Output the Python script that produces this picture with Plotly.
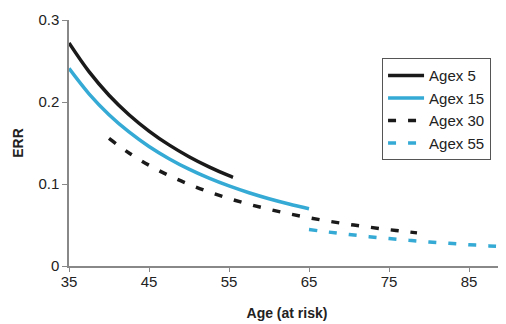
import plotly.graph_objects as go

age_agex5 = [35, 37.5, 40, 42.5, 45, 47.5, 50, 52.5, 55, 55.5]
err_agex5 = [0.2720, 0.2370, 0.2083, 0.1845, 0.1646, 0.1477, 0.1333, 0.1209, 0.1101, 0.1082]

age_agex15 = [35, 37.5, 40, 42.5, 45, 47.5, 50, 52.5, 55, 57.5, 60, 62.5, 65]
err_agex15 = [0.2410, 0.2100, 0.1845, 0.1635, 0.1458, 0.1309, 0.1181, 0.1071, 0.0976, 0.0893,
              0.0820, 0.0756, 0.0699]

age_agex30 = [40, 42.5, 45, 47.5, 50, 52.5, 55, 57.5, 60, 62.5, 65, 67.5, 70, 72.5, 75, 77.5, 78.5]
err_agex30 = [0.1556, 0.1378, 0.1229, 0.1103, 0.0996, 0.0903, 0.0823, 0.0753, 0.0692, 0.0637,
              0.0589, 0.0546, 0.0508, 0.0474, 0.0443, 0.0415, 0.0404]

age_agex55 = [65, 67.5, 70, 72.5, 75, 77.5, 80, 82.5, 85, 87.5, 89]
err_agex55 = [0.0445, 0.0413, 0.0384, 0.0358, 0.0334, 0.0313, 0.0293, 0.0276, 0.0260, 0.0245, 0.0237]

x_ticks = [35, 45, 55, 65, 75, 85]
y_ticks = [0, 0.1, 0.2, 0.3]
y_tick_labels = ["0", "0.1", "0.2", "0.3"]

BLACK = "#1a1a1a"
BLUE = "#35aad4"
FONT = "Liberation Sans, Arial, sans-serif"

fig = go.Figure()
fig.add_trace(go.Scatter(x=age_agex5, y=err_agex5, mode="lines", name="Agex 5",
                         line=dict(color=BLACK, width=3.5, shape="spline")))
fig.add_trace(go.Scatter(x=age_agex15, y=err_agex15, mode="lines", name="Agex 15",
                         line=dict(color=BLUE, width=3.5, shape="spline")))
fig.add_trace(go.Scatter(x=age_agex30, y=err_agex30, mode="lines", name="Agex 30",
                         line=dict(color=BLACK, width=3.5, shape="spline", dash="8px,12px")))
fig.add_trace(go.Scatter(x=age_agex55, y=err_agex55, mode="lines", name="Agex 55",
                         line=dict(color=BLUE, width=3.5, shape="spline", dash="8px,12px")))

# page body has an 8px default margin, so the figure is sized/offset to compensate
fig.update_layout(
    width=498, height=316,
    margin=dict(l=61, r=1, t=12, b=58),
    paper_bgcolor="white", plot_bgcolor="white",
    font=dict(family=FONT, size=15, color="#222222"),
    showlegend=True,
    legend=dict(x=0.718, y=0.845, xanchor="left", yanchor="top",
                bordercolor="#555555", borderwidth=1, bgcolor="white", itemwidth=36,
                font=dict(size=15, color="#222222"), tracegroupgap=0),
    xaxis=dict(range=[35, 89.5], tickvals=x_ticks, showgrid=False, zeroline=False,
               showline=True, linecolor="#888888", linewidth=1.5, automargin=False,
               ticks="outside", ticklen=4, tickcolor="#888888", tickfont=dict(size=15),
               ticklabelstandoff=-3,
               title=dict(text="<b>Age (at risk)</b>", standoff=19, font=dict(size=14))),
    yaxis=dict(range=[0, 0.3], tickvals=y_ticks, ticktext=y_tick_labels, showgrid=False,
               zeroline=False, showline=True, linecolor="#888888", linewidth=1.5, automargin=False,
               ticks="outside", ticklen=5, tickcolor="#888888", tickfont=dict(size=15),
               title=dict(text="<b>ERR</b>", standoff=11, font=dict(size=14))),
)

fig.write_html("out.html")
